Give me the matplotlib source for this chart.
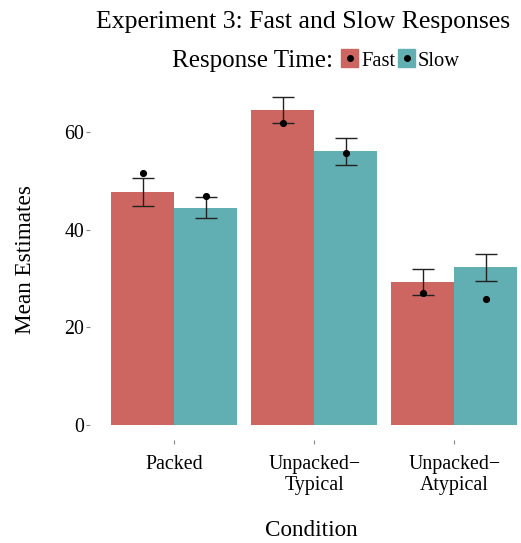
import numpy as np
import matplotlib.pyplot as plt
from matplotlib.patches import Rectangle

plt.rcParams['font.family'] = ['Liberation Serif', 'DejaVu Serif']

conditions = ['Packed', 'Unpacked\u2212\nTypical', 'Unpacked\u2212\nAtypical']
groups = ['Fast', 'Slow']
colors = ['#CD6661', '#61AEB3']

# mean estimates, error bar bounds and medians per response time
means = {'Fast': [47.7, 64.6, 29.3], 'Slow': [44.4, 56.2, 32.3]}
err_lo = {'Fast': [44.9, 61.8, 26.6], 'Slow': [42.3, 53.3, 29.5]}
err_hi = {'Fast': [50.7, 67.2, 32.0], 'Slow': [46.8, 58.9, 35.0]}
medians = {'Fast': [51.6, 61.8, 26.9], 'Slow': [46.9, 55.8, 25.7]}

W, H = 521, 543
fig = plt.figure(figsize=(W / 100, H / 100), dpi=100)
ax = fig.add_axes([90.3 / W, (H - 440) / H, 1 - 90.3 / W, (440 - 80.6) / H])

x = np.arange(1, len(conditions) + 1)
bw = 0.45
for i, g in enumerate(groups):
    xs = x + (i - 0.5) * bw
    ax.bar(xs, means[g], width=bw, color=colors[i], zorder=1)
    lo = np.array(err_lo[g])
    hi = np.array(err_hi[g])
    ax.vlines(xs, lo, hi, color='#222222', lw=1.0, zorder=2)
    ax.hlines(lo, xs - 0.08, xs + 0.08, color='#222222', lw=1.0, zorder=2)
    ax.hlines(hi, xs - 0.08, xs + 0.08, color='#222222', lw=1.0, zorder=2)
    ax.scatter(xs, medians[g], s=17, color='black', zorder=3)

ax.set_xlim(0.4, 3 + (W - 454.3) / 140)
ax.set_ylim(-3.18, 70.6)
ax.set_yticks([0, 20, 40, 60])
ax.set_xticks(x)
ax.set_xticklabels(conditions, fontsize=14.3, linespacing=1.1)
ax.tick_params(axis='y', labelsize=14.3, length=3, width=0.8, color='#888888', pad=1.5)
ax.tick_params(axis='x', length=3, width=0.8, color='#888888', pad=8)
for s in ax.spines.values():
    s.set_visible(False)

fig.text(26 / W, 1 - 260 / H, 'Mean Estimates', rotation=90, fontsize=16.7,
         ha='center', va='center')
fig.text(311 / W, 1 - 531 / H, 'Condition', fontsize=16.7, ha='center', va='center')
fig.text(303 / W, 1 - 28 / H, 'Experiment 3: Fast and Slow Responses', fontsize=18.5,
         ha='center', va='baseline')

# legend row
ly = 58
fig.text(172 / W, 1 - 66.5 / H, 'Response Time:', fontsize=18, ha='left', va='baseline')
for i, (g, kx, tx) in enumerate(zip(groups, [341, 398], [361, 418])):
    fig.patches.append(Rectangle((kx / W, 1 - 66.5 / H), 17 / W, 17 / H,
                                 transform=fig.transFigure, color=colors[i]))
    fig.lines.append(plt.Line2D([(kx + 8.5) / W], [1 - ly / H], marker='o',
                                markersize=4, color='black',
                                transform=fig.transFigure))
    fig.text(tx / W, 1 - 65.5 / H, g, fontsize=14.8, ha='left', va='baseline')

fig.savefig('out.png', dpi=100)
